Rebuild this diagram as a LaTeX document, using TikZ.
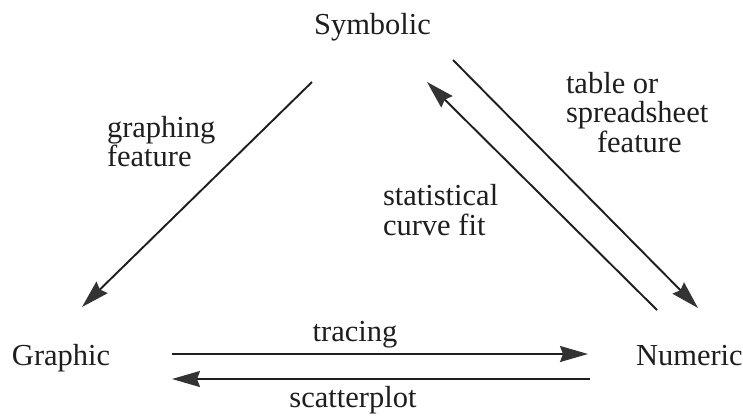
\documentclass[tikz,border=0pt]{standalone}
\usepackage{fontspec}
\setmainfont{Liberation Serif}
\usetikzlibrary{arrows.meta}
\definecolor{ink}{HTML}{1E1E1E}
\definecolor{headfill}{HTML}{333333}
\begin{document}
\begin{tikzpicture}[x=1pt,y=-1pt,
  lbl/.style={inner sep=0pt,outer sep=0pt,text=ink,font=\fontsize{30.5}{30}\selectfont},
  conn/.style={draw=ink,line width=1.9pt,
    -{Stealth[length=28pt,width=16pt,inset=3pt,fill=headfill,color=headfill]}}]
\useasboundingbox (0,0) rectangle (743,415);
% main nodes
\node[lbl,anchor=base] (sym) at (372.5,34.5) {Symbolic};
\node[lbl,anchor=base west] (gra) at (12,365) {Graphic};
\node[lbl,anchor=base west] (num) at (636,365) {Numeric};
% labels
\node[lbl,anchor=base west] (gf1) at (107,137) {graphing};
\node[lbl,anchor=base west] (gf2) at (107,166) {feature};
\node[lbl,anchor=base west] (sc1) at (383,205) {statistical};
\node[lbl,anchor=base west] (sc2) at (383,235) {curve fit};
\node[lbl,anchor=base west] (ts1) at (566,93) {table or};
\node[lbl,anchor=base west] (ts2) at (566,122.5) {spreadsheet};
\node[lbl,anchor=base west] (ts3) at (597,152) {feature};
\node[lbl,anchor=base] (tr) at (355,341) {tracing};
\node[lbl,anchor=base] (scp) at (353,407) {scatterplot};
% connector end points
\coordinate (sg1) at (312,82);
\coordinate (sg2) at (82,307);
\coordinate (ns1) at (657,310);
\coordinate (ns2) at (427,82);
\coordinate (sn1) at (453,60);
\coordinate (sn2) at (698,308);
\coordinate (gn1) at (172,354);
\coordinate (gn2) at (588,354);
\coordinate (ng1) at (590,379);
\coordinate (ng2) at (172,379);
% connectors
\draw[conn] (sg1) -- (sg2);
\draw[conn] (ns1) -- (ns2);
\draw[conn] (sn1) -- (sn2);
\draw[conn] (gn1) -- (gn2);
\draw[conn] (ng1) -- (ng2);
\end{tikzpicture}
\end{document}
